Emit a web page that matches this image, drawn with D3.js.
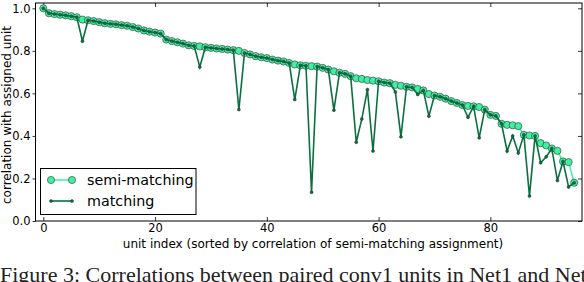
<!DOCTYPE html>
<html><head><meta charset="utf-8">
<script src="https://cdn.jsdelivr.net/npm/d3@7"></script>
<style>body{margin:0;background:#fff;overflow:hidden} svg{display:block}</style>
</head><body><svg id="c" width="584" height="282"></svg>
<script>
const semiMatching = [
 1.000,0.977,0.973,0.970,0.967,0.963,0.958,0.947,0.944,0.940,
 0.935,0.930,0.927,0.925,0.921,0.918,0.912,0.905,0.896,0.890,
 0.886,0.881,0.853,0.846,0.840,0.834,0.826,0.823,0.821,0.817,
 0.814,0.811,0.809,0.806,0.803,0.800,0.790,0.783,0.775,0.770,
 0.766,0.759,0.754,0.750,0.743,0.736,0.732,0.730,0.728,0.726,
 0.720,0.712,0.704,0.697,0.692,0.681,0.671,0.668,0.663,0.660,
 0.657,0.651,0.648,0.640,0.636,0.631,0.628,0.621,0.614,0.597,
 0.590,0.584,0.575,0.564,0.555,0.545,0.541,0.539,0.536,0.524,
 0.499,0.494,0.457,0.452,0.450,0.446,0.405,0.402,0.400,0.366,
 0.355,0.341,0.330,0.280,0.277,0.180];
const matching = [
 1.000,0.977,0.973,0.970,0.967,0.963,0.958,0.845,0.944,0.940,
 0.935,0.930,0.927,0.925,0.921,0.918,0.912,0.905,0.896,0.890,
 0.886,0.881,0.853,0.846,0.840,0.834,0.826,0.823,0.724,0.817,
 0.814,0.811,0.809,0.806,0.803,0.524,0.790,0.783,0.775,0.770,
 0.766,0.759,0.754,0.750,0.743,0.571,0.732,0.730,0.135,0.726,
 0.720,0.712,0.521,0.697,0.692,0.681,0.370,0.480,0.618,0.329,
 0.657,0.651,0.648,0.607,0.396,0.631,0.628,0.595,0.614,0.493,
 0.590,0.584,0.575,0.564,0.555,0.545,0.488,0.539,0.391,0.524,
 0.499,0.494,0.457,0.329,0.400,0.320,0.405,0.117,0.400,0.274,
 0.302,0.341,0.190,0.280,0.160,0.180];
const xTicks = [0, 20, 40, 60, 80];
const yTicks = [0.0, 0.2, 0.4, 0.6, 0.8, 1.0];
const seriesNames = ["semi-matching", "matching"];
const xLabel = "unit index (sorted by correlation of semi-matching assignment)";
const yLabel = "correlation with assigned unit";
const caption = "Figure 3: Correlations between paired conv1 units in Net1 and Net2. Pairings";

const semiColor = "#3ff0a2", matchColor = "#0b7040";
const svg = d3.select("#c");
const L = 35.5, R = 582, T = 3, B = 221;
const x = d3.scaleLinear().domain([-1.4, 96.4]).range([L, R]);
const y = d3.scaleLinear().domain([0, 1.025]).range([B, T]);
const font = "DejaVu Sans, sans-serif";

// axes
const gx = svg.append("g").attr("transform", `translate(0,${B})`)
  .call(d3.axisBottom(x).tickValues(xTicks).tickFormat(d3.format("d")).tickSizeInner(-4).tickSizeOuter(0).tickPadding(2.5));
const gxt = svg.append("g").attr("transform", `translate(0,${T})`)
  .call(d3.axisTop(x).tickValues(xTicks).tickFormat("").tickSizeInner(-4).tickSizeOuter(0));
const gy = svg.append("g").attr("transform", `translate(${L},0)`)
  .call(d3.axisLeft(y).tickValues(yTicks).tickFormat(d3.format(".1f")).tickSizeInner(3).tickSizeOuter(0).tickPadding(2));
const gyr = svg.append("g").attr("transform", `translate(${R},0)`)
  .call(d3.axisRight(y).tickValues(yTicks).tickFormat("").tickSizeInner(-4).tickSizeOuter(0));
[gx, gxt, gy, gyr].forEach(g => {
  g.select(".domain").remove();
  g.selectAll("line").attr("stroke", "#000").attr("stroke-width", 0.8);
  g.selectAll("text").attr("font-family", font).attr("font-size", 11.5).attr("fill", "#000");
});
svg.append("rect").attr("x", L).attr("y", T).attr("width", R - L).attr("height", B - T)
  .attr("fill", "none").attr("stroke", "#000").attr("stroke-width", 1);

// series
const idx = d3.range(semiMatching.length);
const line = arr => d3.line().x(i => x(i)).y(i => y(arr[i]))(idx);
svg.append("path").attr("d", line(semiMatching)).attr("fill", "none")
  .attr("stroke", semiColor).attr("stroke-width", 1.5);
svg.append("g").selectAll("circle").data(idx).join("circle")
  .attr("cx", i => x(i)).attr("cy", i => y(semiMatching[i])).attr("r", 3.6)
  .attr("fill", semiColor).attr("stroke", "#333").attr("stroke-width", 0.6);
svg.append("path").attr("d", line(matching)).attr("fill", "none")
  .attr("stroke", matchColor).attr("stroke-width", 1.6);
svg.append("g").selectAll("circle").data(idx).join("circle")
  .attr("cx", i => x(i)).attr("cy", i => y(matching[i])).attr("r", 1.5)
  .attr("fill", matchColor).attr("stroke", "#333").attr("stroke-width", 0.5);

// legend
const lg = svg.append("g");
lg.append("rect").attr("x", 40.5).attr("y", 168.5).attr("width", 155.5).attr("height", 46)
  .attr("fill", "#fff").attr("stroke", "#000").attr("stroke-width", 1);
[[semiColor, 3.6, 1.5, 180], [matchColor, 1.5, 1.6, 201]].forEach(([c, r, w, yy], k) => {
  lg.append("line").attr("x1", 51).attr("x2", 72).attr("y1", yy).attr("y2", yy)
    .attr("stroke", c).attr("stroke-width", w);
  [51, 72].forEach(cx => lg.append("circle").attr("cx", cx).attr("cy", yy).attr("r", r)
    .attr("fill", c).attr("stroke", "#333").attr("stroke-width", k ? 0.5 : 0.6));
  lg.append("text").attr("x", 87).attr("y", yy + 5).attr("font-family", font)
    .attr("font-size", 14.3).text(seriesNames[k]);
});

// labels
svg.append("text").attr("x", 313).attr("y", 248).attr("text-anchor", "middle")
  .attr("font-family", font).attr("font-size", 12).text(xLabel);
svg.append("text").attr("transform", "translate(11,115) rotate(-90)").attr("text-anchor", "middle")
  .attr("font-family", font).attr("font-size", 12).text(yLabel);
svg.append("text").attr("x", 0).attr("y", 282).attr("font-family", "Liberation Serif, serif")
  .attr("font-size", 22).attr("fill", "#222").text(caption);
</script></body></html>
